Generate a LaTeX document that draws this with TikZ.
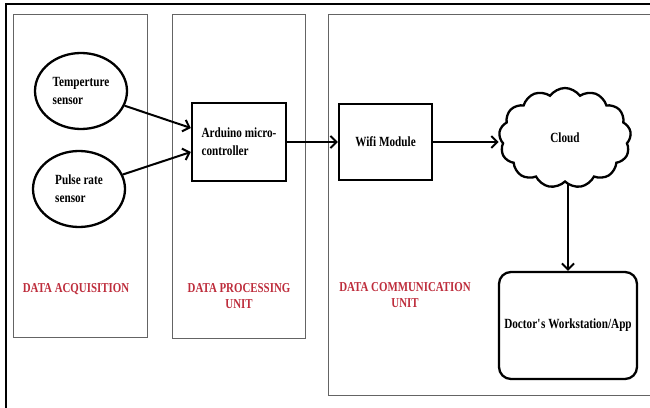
\documentclass[tikz,border=0pt]{standalone}
\usepackage{fontspec}
\setmainfont{Liberation Serif}[FakeStretch=0.8]
\usetikzlibrary{shapes.geometric,shapes.symbols,arrows.meta}
\definecolor{labred}{RGB}{190,45,60}
\definecolor{panelgray}{RGB}{100,100,100}
\tikzset{
  panel/.style={draw=panelgray, line width=1pt},
  blk/.style={draw=black, line width=2.3pt, font=\bfseries\fontsize{14}{18}\selectfont, align=left, inner sep=0pt},
  sens/.style={ellipse, draw=black, line width=2.3pt, minimum width=92pt, minimum height=76pt, inner sep=0pt, font=\bfseries\fontsize{14}{18}\selectfont, align=left},
  lab/.style={text=labred, font=\bfseries\fontsize{13.6}{16}\selectfont, align=center, inner sep=0pt},
  conn/.style={line width=2pt, -{Straight Barb[length=6pt,width=12pt,line width=2pt]}}
}
\begin{document}
\begin{tikzpicture}[x=1pt,y=-1pt]
\useasboundingbox (0,0) rectangle (650,407);
\fill[white] (0,0) rectangle (650,407);
% outer frame
\draw[line width=2pt] (6,408) -- (6,4) -- (652,4);
% panels
\draw[panel] (13,14) rectangle (147,337);
\draw[panel] (172,14) rectangle (305,338);
\draw[panel] (655,14) -- (328,14) -- (328,395) -- (655,395);
% nodes
\node[sens] (temp) at (81,91) {Temperture\\sensor};
\node[sens] (pulse) at (79,189) {Pulse rate\\sensor};
\node[blk, minimum width=94pt, minimum height=78pt, align=left] (ard) at (239,142) {Arduino micro-\\controller};
\node[blk, minimum width=93pt, minimum height=76pt] (wifi) at (385.5,142) {Wifi Module};
\node[cloud, cloud puffs=13, cloud puff arc=110, aspect=1.35, draw=black, line width=2.3pt, minimum width=132pt, minimum height=100pt, inner sep=0pt, font=\bfseries\fontsize{14}{18}\selectfont] (cloud) at (565,138) {Cloud};
\node[blk, rounded corners=12pt, minimum width=138pt, minimum height=107pt] (doc) at (568,325.5) {Doctor\textquotesingle s Workstation/App};
% labels
\node[lab] (l1) at (76,289) {DATA ACQUISITION};
\node[lab] (l2) at (239,296) {DATA PROCESSING\\UNIT};
\node[lab] (l3) at (405,295) {DATA COMMUNICATION\\UNIT};
% connectors
\draw[conn] (temp) -- ([yshift=14pt]ard.west);
\draw[conn] (pulse) -- ([yshift=-10pt]ard.west);
\draw[conn] (ard.east) -- (wifi.west);
\draw[conn] (wifi.east) -- (wifi.east -| cloud.west);
\draw[conn] (doc.north |- cloud.south) -- (doc.north);
\end{tikzpicture}
\end{document}
